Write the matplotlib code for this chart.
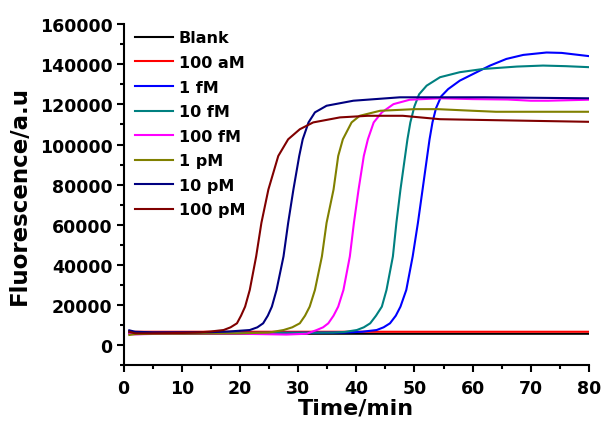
import matplotlib
matplotlib.use("Agg")
import matplotlib.pyplot as plt
from matplotlib.ticker import MultipleLocator

labels = ["Blank", "100 aM", "1 fM", "10 fM", "100 fM", "1 pM", "10 pM", "100 pM"]
colors = ["#000000", "#FF0000", "#0000FF", "#008080", "#FF00FF", "#808000", "#000080", "#800000"]

t_blank = [1, 2, 5, 10, 20, 30, 40, 50, 60, 70, 80]
y_blank = [6200, 5800, 5800, 5800, 5800, 5800, 5800, 5800, 5800, 5800, 5800]

t_100aM = [1, 2, 5, 10, 20, 30, 40, 50, 60, 70, 80]
y_100aM = [6600, 6800, 6800, 6800, 6800, 6800, 6800, 6800, 6800, 6800, 6800]

t_1fM = [1, 2, 5, 10, 20, 30, 38, 41, 43.5, 44.7, 45.8, 46.8, 47.6, 48.6, 49.7, 50.6, 51.4,
         52.2, 52.6, 53.1, 53.7, 54.6, 55.8, 57.8, 60.7, 63.0, 65.8, 68.7, 72.7, 75.3, 80]
y_1fM = [7200, 6400, 6200, 6200, 6200, 6300, 6400, 6800, 7650, 9000, 11000, 14800, 19300,
         27600, 44300, 61000, 77600, 94300, 102600, 111000, 118000, 124000, 127600, 131800,
         136000, 139300, 142600, 144600, 145800, 145600, 144000]

t_10fM = [1, 2, 5, 10, 20, 30, 36, 38, 40.1, 41.3, 42.4, 43.4, 44.4, 45.2, 46.3, 46.9,
          47.6, 48.4, 48.8, 49.3, 50.0, 50.8, 52.1, 54.4, 57.8, 61.8, 67.6, 72.1, 76, 80]
y_10fM = [6800, 6300, 6200, 6200, 6200, 6300, 6400, 6700, 7650, 9000, 11000, 14800, 19300,
          27600, 44300, 61000, 77600, 94300, 102600, 111000, 119000, 125000, 129300, 133500,
          136000, 137600, 138800, 139300, 139000, 138500]

t_100fM = [1, 2, 5, 10, 20, 28, 31.5, 33.2, 34.3, 35.2, 36.1, 36.9, 37.8, 38.9, 39.6, 40.4,
           41.3, 42.0, 43.0, 44.4, 46.4, 49.2, 54.4, 60, 66, 70, 73, 80]
y_100fM = [5600, 5500, 5700, 6000, 5800, 5400, 5800, 7650, 9000, 11000, 14800, 19300, 27600,
           44300, 61000, 77600, 94300, 102600, 111000, 116000, 120100, 122300, 123000,
           122600, 122400, 121800, 121800, 122300]

t_1pM = [1, 2, 5, 10, 20, 25, 27.5, 29.0, 30.3, 31.2, 32.0, 32.9, 34.1, 34.9, 36.1, 36.9,
         37.7, 39.2, 40.6, 44.1, 50, 54, 60, 64, 80]
y_1pM = [5200, 5600, 5800, 5900, 6000, 6400, 7650, 9000, 11000, 14800, 19300, 27600, 44300,
         61000, 77600, 94300, 102600, 111000, 114300, 116800, 117600, 117600, 116800,
         116300, 116300]

t_10pM = [1, 2, 5, 10, 15, 18, 21.7, 23.0, 24.0, 24.8, 25.5, 26.3, 27.5, 28.3, 29.2, 30.2,
          30.8, 31.8, 32.9, 34.9, 39.5, 47.5, 62, 80]
y_10pM = [7500, 6800, 6500, 6500, 6600, 6900, 7650, 9000, 11000, 14800, 19300, 27600, 44300,
          61000, 77600, 94300, 102600, 111000, 116000, 119300, 121800, 123500, 123500, 123000]

t_100pM = [1, 2, 5, 10, 13, 14.9, 17.2, 18.4, 19.5, 20.2, 20.9, 21.7, 22.8, 23.7, 24.9,
           26.6, 28.3, 30.3, 32.6, 37.2, 42, 48, 54.4, 64, 80]
y_100pM = [6800, 6000, 6000, 6200, 6500, 6900, 7650, 9000, 11000, 14800, 19300, 27600,
           44300, 61000, 77600, 94300, 102600, 107600, 111000, 113500, 114300, 114300,
           112600, 112100, 111300]

series_t = [t_blank, t_100aM, t_1fM, t_10fM, t_100fM, t_1pM, t_10pM, t_100pM]
series_y = [y_blank, y_100aM, y_1fM, y_10fM, y_100fM, y_1pM, y_10pM, y_100pM]

plt.rcParams['font.family'] = ['DejaVu Sans']
plt.rcParams['font.weight'] = 'bold'

fig = plt.figure(figsize=(6.01, 4.27), dpi=100)
ax = fig.add_axes([0.2055, 0.1417, 0.7745, 0.7998])

for t, y, c, lab in zip(series_t, series_y, colors, labels):
    ax.plot(t, y, color=c, lw=1.5, label=lab, solid_joinstyle='round')

ax.set_xlim(0, 80)
ax.set_ylim(-10000, 160000)
ax.xaxis.set_major_locator(MultipleLocator(10))
ax.xaxis.set_minor_locator(MultipleLocator(5))
ax.yaxis.set_major_locator(MultipleLocator(20000))
ax.yaxis.set_minor_locator(MultipleLocator(10000))

for s in ['top', 'right']:
    ax.spines[s].set_visible(False)
for s in ['left', 'bottom']:
    ax.spines[s].set_linewidth(1.5)

ax.tick_params(which='major', direction='out', length=5, width=1.5, labelsize=12.5)
ax.tick_params(axis='x', which='major', pad=5)
ax.tick_params(axis='y', which='major', pad=3)
ax.tick_params(which='minor', direction='out', length=3, width=1.5)
for lbl in ax.get_xticklabels() + ax.get_yticklabels():
    lbl.set_fontweight('bold')

ax.set_xlabel("Time/min", fontsize=16, fontweight='bold', labelpad=0)
ax.set_ylabel("Fluorescence/a.u", fontsize=16.5, fontweight='bold', labelpad=6)

leg = ax.legend(loc='upper left', frameon=False, fontsize=11.5, handlelength=2.4,
                handletextpad=0.35, labelspacing=0.6, borderaxespad=0.0,
                bbox_to_anchor=(0.011, 1.0))
for txt in leg.get_texts():
    txt.set_fontweight('bold')

fig.savefig("out.png", dpi=100)
